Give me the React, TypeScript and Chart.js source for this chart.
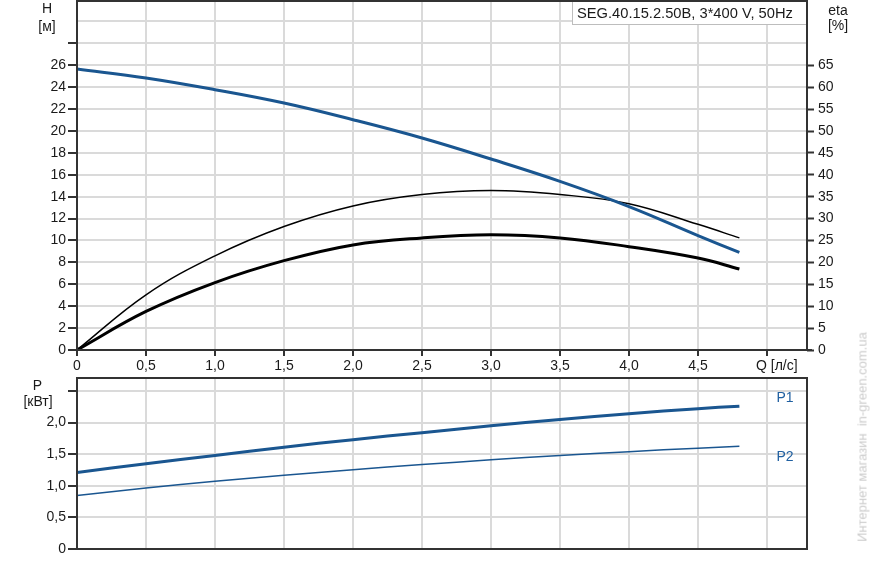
import React, { useEffect, useRef } from 'react';
import { Chart, registerables } from 'chart.js';

Chart.register(...registerables);

const FONT = "'Liberation Sans', Arial, Helvetica, sans-serif";
const TEXT = '#1a1a1a';
const AXIS = '#333333';
const GRID = '#dadada';
const BLUE = '#1a5690';
const LABEL_BLUE = '#1f5fa0';

// ---- data ----
const flow = [0, 0.5, 1.0, 1.5, 2.0, 2.5, 3.0, 3.5, 4.0, 4.5, 4.8];
const head = [25.66, 24.84, 23.77, 22.55, 21.03, 19.36, 17.44, 15.4, 13.1, 10.45, 8.91];
const etaPump = [0, 12.6, 21.5, 28.2, 32.9, 35.5, 36.4, 35.5, 33.4, 28.7, 25.6];
const etaTotal = [0, 8.8, 15.4, 20.4, 24.0, 25.6, 26.3, 25.6, 23.6, 21.0, 18.5];
const powerP1 = [1.21, 1.35, 1.48, 1.61, 1.73, 1.84, 1.95, 2.05, 2.14, 2.22, 2.26];
const powerP2 = [0.845, 0.965, 1.07, 1.165, 1.255, 1.335, 1.41, 1.48, 1.54, 1.595, 1.625];

// ---- ticks / labels ----
const xTicks = [0, 0.5, 1.0, 1.5, 2.0, 2.5, 3.0, 3.5, 4.0, 4.5, 5.0];
const xTickLabels = ['0', '0,5', '1,0', '1,5', '2,0', '2,5', '3,0', '3,5', '4,0', '4,5', ''];
const xAxisTitle = 'Q [л/с]';
const hTicks = [0, 2, 4, 6, 8, 10, 12, 14, 16, 18, 20, 22, 24, 26, 28, 30];
const hTickLabels = ['0', '2', '4', '6', '8', '10', '12', '14', '16', '18', '20', '22', '24', '26', '', ''];
const etaTicks = [0, 5, 10, 15, 20, 25, 30, 35, 40, 45, 50, 55, 60, 65];
const pTicks = [0, 0.5, 1.0, 1.5, 2.0, 2.5];
const pTickLabels = ['0', '0,5', '1,0', '1,5', '2,0', ''];
const chartTitle = 'SEG.40.15.2.50B, 3*400 V, 50Hz';
const watermark = 'Интернет магазин\u00a0 in-green.com.ua';

const pts = (ys: number[]) => flow.map((x, i) => ({ x, y: ys[i] }));

const fit = (prop: 'width' | 'height', size: number) => (s: any) => {
  s[prop] = size;
  s.paddingTop = 0;
  s.paddingBottom = 0;
  s.paddingLeft = 0;
  s.paddingRight = 0;
};

const setTicks = (vals: number[]) => (s: any) => {
  s.ticks = vals.map((v) => ({ value: v }));
};

const tickFont = { family: FONT, size: 14 };

const topDecor = {
  id: 'topDecor',
  afterDraw(chart: any) {
    const { ctx, chartArea: a, scales } = chart;
    ctx.save();
    // legend box
    ctx.fillStyle = '#ffffff';
    ctx.fillRect(572, 0, a.right - 572, 24);
    ctx.strokeStyle = '#bdbdbd';
    ctx.lineWidth = 1;
    ctx.strokeRect(572.5, -0.5, a.right - 572.5, 25);
    ctx.fillStyle = TEXT;
    ctx.font = `14.7px ${FONT}`;
    ctx.textAlign = 'left';
    ctx.textBaseline = 'alphabetic';
    ctx.fillText(chartTitle, 577, 18);
    // frame
    ctx.strokeStyle = AXIS;
    ctx.lineWidth = 2;
    ctx.strokeRect(a.left, a.top, a.right - a.left, a.bottom - a.top);
    ctx.beginPath();
    ctx.moveTo(a.right, a.bottom);
    ctx.lineTo(a.right + 5, a.bottom);
    ctx.stroke();
    // axis titles
    ctx.fillStyle = TEXT;
    ctx.font = `14px ${FONT}`;
    ctx.textAlign = 'center';
    ctx.fillText('H', a.left - 30, 13);
    ctx.fillText('[м]', a.left - 30, 31);
    ctx.fillText('eta', a.right + 31, 15);
    ctx.fillText('[%]', a.right + 31, 30);
    ctx.textAlign = 'left';
    ctx.textBaseline = 'middle';
    const qx = scales.x.getPixelForValue(5.0);
    ctx.fillText(xAxisTitle, qx - 11, a.bottom + 16);
    ctx.restore();
  },
};

const bottomDecor = {
  id: 'bottomDecor',
  afterDraw(chart: any) {
    const { ctx, chartArea: a } = chart;
    ctx.save();
    ctx.strokeStyle = AXIS;
    ctx.lineWidth = 2;
    ctx.strokeRect(a.left, a.top, a.right - a.left, a.bottom - a.top);
    ctx.fillStyle = TEXT;
    ctx.font = `14px ${FONT}`;
    ctx.textAlign = 'center';
    ctx.textBaseline = 'alphabetic';
    ctx.fillText('P', a.left - 39.5, 15);
    ctx.fillText('[кВт]', a.left - 39, 31);
    ctx.fillStyle = LABEL_BLUE;
    ctx.textBaseline = 'middle';
    ctx.fillText('P1', a.right - 22, 23);
    ctx.fillText('P2', a.right - 22, 82);
    ctx.restore();
  },
};

const line = (data: number[], color: string, width: number, axis?: string) => ({
  data: pts(data),
  ...(axis ? { yAxisID: axis } : {}),
  borderColor: color,
  borderWidth: width,
  pointRadius: 0,
  tension: 0.4,
  fill: false,
});

export default function App() {
  const topRef = useRef<HTMLCanvasElement>(null);
  const botRef = useRef<HTMLCanvasElement>(null);

  useEffect(() => {
    const top = new Chart(topRef.current as HTMLCanvasElement, {
      type: 'line',
      data: {
        datasets: [
          line(head, BLUE, 3, 'y'),
          line(etaPump, '#000000', 1.5, 'y2'),
          line(etaTotal, '#000000', 3, 'y2'),
        ],
      } as any,
      options: {
        responsive: false,
        animation: false,
        events: [],
        layout: { padding: { top: 1, left: 0, right: 0, bottom: 0 } },
        plugins: { legend: { display: false }, tooltip: { enabled: false } },
        scales: {
          x: {
            type: 'linear',
            min: 0,
            max: 5.29,
            afterBuildTicks: setTicks(xTicks),
            afterFit: fit('height', 25),
            border: { display: false },
            grid: { color: GRID, lineWidth: 2, tickColor: AXIS, tickWidth: 2, tickLength: 6 },
            ticks: { autoSkip: false, maxRotation: 0, padding: 2, color: TEXT, font: tickFont, callback: (_v: any, i: number) => xTickLabels[i] },
          },
          y: {
            type: 'linear',
            position: 'left',
            min: 0,
            max: 31.87,
            afterBuildTicks: setTicks(hTicks),
            afterFit: fit('width', 77),
            border: { display: false },
            grid: {
              color: GRID,
              lineWidth: 2,
              tickColor: (c: any) => (c.tick && c.tick.value > 28 ? 'rgba(0,0,0,0)' : AXIS),
              tickWidth: 2,
              tickLength: 9,
            },
            ticks: { autoSkip: false, padding: 2, color: TEXT, font: tickFont, callback: (_v: any, i: number) => hTickLabels[i] },
          },
          y2: {
            type: 'linear',
            position: 'right',
            min: 0,
            max: 79.7,
            afterBuildTicks: setTicks(etaTicks),
            afterFit: fit('width', 63),
            border: { display: false },
            grid: { drawOnChartArea: false, tickColor: AXIS, tickWidth: 2, tickLength: 7 },
            ticks: { autoSkip: false, padding: 4, color: TEXT, font: tickFont, callback: (v: any) => String(v) },
          },
        },
      } as any,
      plugins: [topDecor],
    });

    const bot = new Chart(botRef.current as HTMLCanvasElement, {
      type: 'line',
      data: {
        datasets: [line(powerP1, BLUE, 3), line(powerP2, BLUE, 1.5)],
      } as any,
      options: {
        responsive: false,
        animation: false,
        events: [],
        layout: { padding: { top: 3, left: 0, right: 63, bottom: 0 } },
        plugins: { legend: { display: false }, tooltip: { enabled: false } },
        scales: {
          x: {
            type: 'linear',
            min: 0,
            max: 5.29,
            afterBuildTicks: setTicks(xTicks),
            afterFit: fit('height', 13),
            border: { display: false },
            grid: { color: GRID, lineWidth: 2, drawTicks: false },
            ticks: { display: false },
          },
          y: {
            type: 'linear',
            position: 'left',
            min: 0,
            max: 2.705,
            afterBuildTicks: setTicks(pTicks),
            afterFit: fit('width', 77),
            border: { display: false },
            grid: { color: GRID, lineWidth: 2, tickColor: AXIS, tickWidth: 2, tickLength: 9 },
            ticks: { autoSkip: false, padding: 2, color: TEXT, font: tickFont, callback: (_v: any, i: number) => pTickLabels[i] },
          },
        },
      } as any,
      plugins: [bottomDecor],
    });

    return () => {
      top.destroy();
      bot.destroy();
    };
  }, []);

  return (
    <div style={{ position: 'absolute', left: 0, top: 0, width: 870, height: 562, background: '#ffffff', overflow: 'hidden' }}>
      <canvas ref={topRef} width={870} height={375} style={{ position: 'absolute', left: 0, top: 0 }} />
      <canvas ref={botRef} width={870} height={187} style={{ position: 'absolute', left: 0, top: 375 }} />
      <div
        style={{
          position: 'absolute',
          left: 862,
          top: 437,
          transform: 'translate(-50%, -50%) rotate(-90deg)',
          whiteSpace: 'nowrap',
          font: `13px ${FONT}`,
          color: '#cccccc',
        }}
      >
        {watermark}
      </div>
    </div>
  );
}
